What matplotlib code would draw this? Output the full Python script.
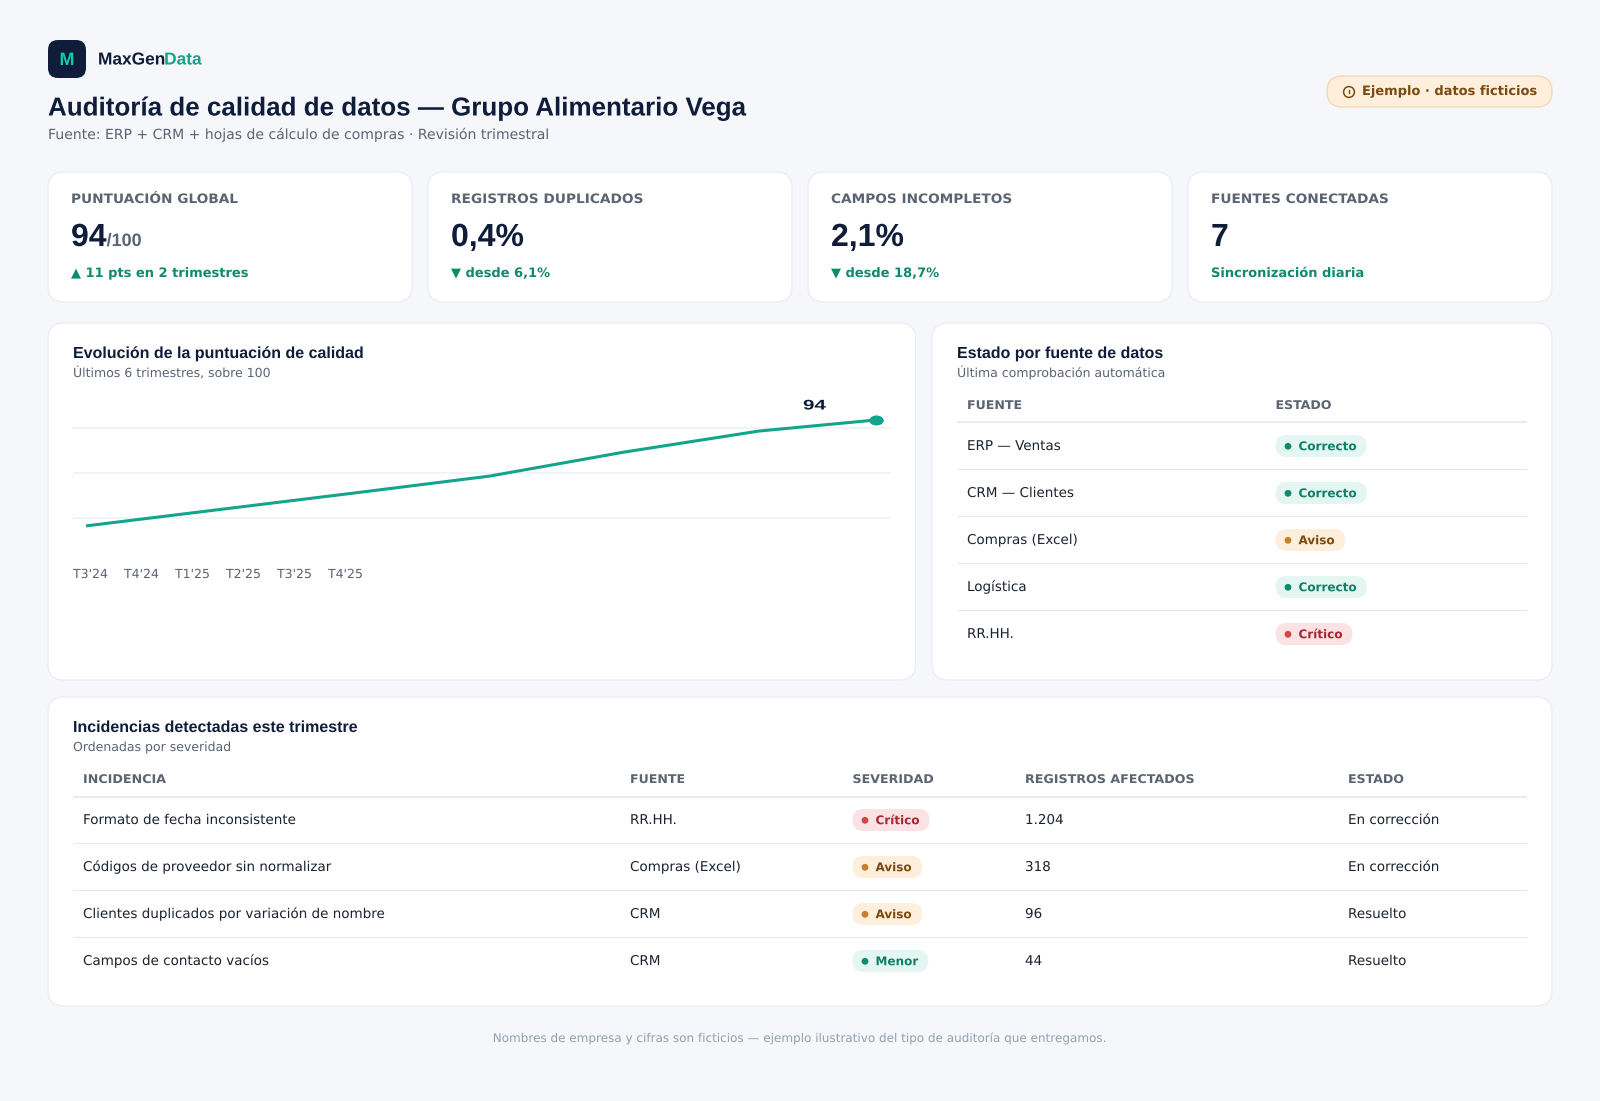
import matplotlib
matplotlib.use('Agg')
import matplotlib.pyplot as plt
import matplotlib.patheffects as pe
from matplotlib.markers import MarkerStyle
from matplotlib.patches import Circle, FancyBboxPatch
from matplotlib.transforms import Affine2D

# browser text is not hinted, widths scale linearly
plt.rcParams['text.hinting'] = 'none'
plt.rcParams['text.hinting_factor'] = 1

# data
kpi_labels = ['PUNTUACIÓN GLOBAL', 'REGISTROS DUPLICADOS', 'CAMPOS INCOMPLETOS', 'FUENTES CONECTADAS']
kpi_values = ['94', '0,4%', '2,1%', '7']
kpi_notes = ['▲ 11 pts en 2 trimestres', '▼ desde 6,1%', '▼ desde 18,7%', 'Sincronización diaria']

quarters = ["T3'24", "T4'24", "T1'25", "T2'25", "T3'25", "T4'25"]
line_pos = [0, 1, 2, 3, 4, 5, 5.87]
scores = [58.7, 64.2, 69.7, 75.3, 83.3, 90.3, 94]
grid_values = [61.3, 76.3, 91.3]

source_names = ['ERP — Ventas', 'CRM — Clientes', 'Compras (Excel)', 'Logística', 'RR.HH.']
source_status = ['Correcto', 'Correcto', 'Aviso', 'Correcto', 'Crítico']

issue_headers = ['INCIDENCIA', 'FUENTE', 'SEVERIDAD', 'REGISTROS AFECTADOS', 'ESTADO']
issue_names = ['Formato de fecha inconsistente', 'Códigos de proveedor sin normalizar',
               'Clientes duplicados por variación de nombre', 'Campos de contacto vacíos']
issue_sources = ['RR.HH.', 'Compras (Excel)', 'CRM', 'CRM']
issue_severity = ['Crítico', 'Aviso', 'Aviso', 'Menor']
issue_counts = ['1.204', '318', '96', '44']
issue_status = ['En corrección', 'En corrección', 'Resuelto', 'Resuelto']

# colours
BG = '#f5f7fb'
NAVY = '#0f1d3a'
GREY = '#5b6472'
INK = '#1b2330'
RULE = '#e6e9ee'
TEAL = '#12a58c'
GREEN = '#0f8a6d'
SANS = 'DejaVu Sans'
HEAD = 'Liberation Sans'

# fill, text, dot
pill_styles = {
    'Correcto': ('#e4f6f1', '#0f7f66', '#0f8a6d'),
    'Menor': ('#e4f6f1', '#0f7f66', '#0f8a6d'),
    'Aviso': ('#fdefdc', '#7a4a12', '#c77f2a'),
    'Crítico': ('#fbe3e5', '#a9252f', '#d64545'),
}

W, H = 1600, 1101
fig = plt.figure(figsize=(W / 100, H / 100), dpi=100, facecolor=BG)
ax = fig.add_axes([0, 0, 1, 1])
ax.set_xlim(0, W)
ax.set_ylim(H, 0)
ax.axis('off')
renderer = fig.canvas.get_renderer()


class StretchX(pe.AbstractPathEffect):
    # letter-spacing is not available in matplotlib, so widen the glyphs instead
    def __init__(self, x0, k):
        super().__init__()
        self.x0 = x0
        self.k = k

    def draw_path(self, renderer, gc, tpath, affine, rgbFace=None):
        stretch = Affine2D().translate(-self.x0, 0).scale(self.k, 1).translate(self.x0, 0)
        renderer.draw_path(gc, tpath, affine + stretch, rgbFace)


def label(x, y, s, px, color=INK, bold=False, family=SANS, ha='left', tracking=0.0, **kw):
    t = ax.text(x, y, s, fontsize=px * 0.72, color=color, family=family,
                fontweight='bold' if bold else 'normal', ha=ha, va='baseline', **kw)
    # a path effect draws the glyphs as vectors, so baselines do not snap to pixels
    w = t.get_window_extent(renderer).width
    t.set_path_effects([StretchX(x, 1 + tracking * (len(s) - 1) / w)])
    return t


def box(x0, y0, x1, y1, radius, fill, edge='none', lw=1.0, z=1):
    ax.add_patch(FancyBboxPatch((x0 + radius, y0 + radius), x1 - x0 - 2 * radius, y1 - y0 - 2 * radius,
                                boxstyle='round,pad=%f,rounding_size=%f' % (radius, radius),
                                fc=fill, ec=edge, lw=lw, zorder=z))


def card(x0, y0, x1, y1):
    box(x0, y0, x1, y1, 16, 'white', '#e8ebf0', 0.8)


def rule(x0, x1, y, lw=0.8):
    ax.plot([x0, x1], [y, y], color=RULE, lw=lw, zorder=2, solid_capstyle='butt')


def pill(x, yc, s):
    fill, tc, dot = pill_styles[s]
    t = label(x + 23, yc + 4.2, s, 12, tc, bold=True, zorder=3)
    right = t.get_window_extent(renderer).x1 + 10
    box(x, yc - 11, right, yc + 11, 11, fill, z=2)
    ax.add_patch(Circle((x + 12.5, yc + 0.3), 3.4, fc=dot, ec='none', zorder=3))


# header
box(48, 40, 86, 78, 10, NAVY)
label(67, 65, 'M', 18, '#14c9a5', bold=True, family=HEAD, ha='center', zorder=3)
brand = label(98, 64.5, 'MaxGen', 17.3, NAVY, bold=True, family=HEAD)
label(brand.get_window_extent(renderer).x1, 64.5, 'Data', 17.3, TEAL, bold=True, family=HEAD)
label(48, 115.5, 'Auditoría de calidad de datos — Grupo Alimentario Vega', 26, NAVY, bold=True, family=HEAD)
label(48, 139, 'Fuente: ERP + CRM + hojas de cálculo de compras · Revisión trimestral', 14, GREY)

box(1327, 76, 1552, 107, 15.5, '#fdefdc', '#f3d9b5', 1.0)
ax.add_patch(Circle((1349, 92), 5.4, fc='none', ec='#7a4a12', lw=1.1, zorder=3))
ax.plot([1349, 1349], [90, 92.5], color='#7a4a12', lw=1.0, zorder=3)
label(1362, 95, 'Ejemplo · datos ficticios', 13, '#7a4a12', bold=True, zorder=3)

# kpi cards
card_x = [(48, 412), (428, 792), (808, 1172), (1188, 1552)]
for i, (x0, x1) in enumerate(card_x):
    card(x0, 172, x1, 302)
    label(x0 + 23, 203, kpi_labels[i], 13, GREY, bold=True, tracking=0.53, zorder=3)
    v = label(x0 + 23, 246, kpi_values[i], 32, NAVY, bold=True, family=HEAD, zorder=3)
    if i == 0:
        label(v.get_window_extent(renderer).x1, 246, '/100', 18, GREY, bold=True, family=HEAD, zorder=3)
    label(x0 + 23, 277, kpi_notes[i], 13, GREEN, bold=True, zorder=3)

# line chart panel
card(48, 323, 915.5, 680)
label(73, 358, 'Evolución de la puntuación de calidad', 16, NAVY, bold=True, family=HEAD, zorder=3)
label(73, 377, 'Últimos 6 trimestres, sobre 100', 12.5, GREY, zorder=3)

chart = fig.add_axes([73 / W, 1 - 540 / H, 818 / W, 140 / H], facecolor='none')
chart.set_xlim(-0.097, 5.985)
chart.set_ylim(54, 100.67)
chart.set_yticks(grid_values)
chart.set_xticks([])
chart.tick_params(length=0, labelleft=False)
chart.grid(axis='y', color='#eef1f5', lw=1.1)
chart.set_axisbelow(True)
for s in chart.spines.values():
    s.set_visible(False)
chart.plot(line_pos, scores, color=TEAL, lw=2.2, solid_capstyle='butt', solid_joinstyle='round')
chart.plot(line_pos[-1], scores[-1], ls='none', color=TEAL, ms=7.2,
           marker=MarkerStyle('o', transform=Affine2D().scale(1.45, 1)), mew=0, clip_on=False)

score_label = label(803, 409.5, '94', 14, NAVY, bold=True, family=HEAD, zorder=3)
score_label.set_path_effects([StretchX(803, 1.47)])
for i, q in enumerate(quarters):
    label(73 + 51 * i, 578, q, 12.5, GREY, zorder=3)

# source status panel
card(932, 323, 1552, 680)
label(957, 358, 'Estado por fuente de datos', 16, NAVY, bold=True, family=HEAD, zorder=3)
label(957, 377, 'Última comprobación automática', 12.5, GREY, zorder=3)
label(967, 409, 'FUENTE', 12, GREY, bold=True, tracking=0.5, zorder=3)
label(1275.5, 409, 'ESTADO', 12, GREY, bold=True, tracking=0.5, zorder=3)
rule(957, 1527, 422, 1.2)
for i, (name, status) in enumerate(zip(source_names, source_status)):
    y = 450 + 47 * i
    label(967, y, name, 13.5, zorder=3)
    pill(1275.5, y - 4, status)
    if i < len(source_names) - 1:
        rule(957, 1527, 469 + 47 * i)

# issues panel
card(48, 697, 1552, 1006)
label(73, 732, 'Incidencias detectadas este trimestre', 16, NAVY, bold=True, family=HEAD, zorder=3)
label(73, 751, 'Ordenadas por severidad', 12.5, GREY, zorder=3)
col_x = [83, 630, 852.5, 1025, 1348]
for x, h in zip(col_x, issue_headers):
    label(x, 783, h, 12, GREY, bold=True, tracking=0.5, zorder=3)
rule(73, 1527, 796.5, 1.2)
for i in range(len(issue_names)):
    y = 824 + 47 * i
    label(col_x[0], y, issue_names[i], 13.5, zorder=3)
    label(col_x[1], y, issue_sources[i], 13.5, zorder=3)
    pill(col_x[2], y - 4, issue_severity[i])
    label(col_x[3], y, issue_counts[i], 13.5, zorder=3)
    label(col_x[4], y, issue_status[i], 13.5, zorder=3)
    if i < len(issue_names) - 1:
        rule(73, 1527, 843 + 47 * i)

label(800, 1042, 'Nombres de empresa y cifras son ficticios — ejemplo ilustrativo del tipo de auditoría que entregamos.',
      12, '#94a0ae', ha='center')

fig.savefig('out.png', dpi=100, facecolor=BG)
